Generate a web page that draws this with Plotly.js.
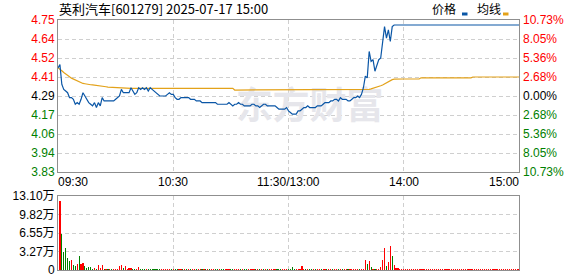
<!DOCTYPE html>
<html><head><meta charset="utf-8">
<script src="https://cdn.plot.ly/plotly-3.0.1.min.js"></script>
<style>html,body{margin:0;padding:0;background:#fff;overflow:hidden}#chart{width:578px;height:276px}</style>
</head><body><div id="chart"></div>
<script>
// ---------- data ----------
const chartTitle = "英利汽车[601279] 2025-07-17 15:00";
const legendNames = ["价格", "均线"];
const watermarkText = "东方财富";
const prevClose = 4.29;
const limitPct = 10.73;
const priceTickLabels = ["4.75","4.64","4.52","4.41","4.29","4.17","4.06","3.94","3.83"];
const pctTickLabels = ["10.73%","8.05%","5.36%","2.68%","0.00%","2.68%","5.36%","8.05%","10.73%"];
const timeTickMinutes = [0, 60, 120, 180, 240];
const timeTickLabels = ["09:30", "10:30", "11:30/13:00", "14:00", "15:00"];
const volTickValues = [0, 32750, 65500, 98250, 131000];
const volTickLabels = ["0", "3.27万", "6.55万", "9.82万", "13.10万"];

// one value per trading minute, 09:30 .. 11:30, 13:01 .. 15:00
const price = [
4.46,4.48,4.36,4.33,4.32,4.31,4.28,4.28,4.27,4.24,
4.25,4.24,4.27,4.31,4.29,4.27,4.25,4.24,4.23,4.25,
4.22,4.25,4.23,4.28,4.26,4.26,4.26,4.26,4.26,4.26,
4.27,4.28,4.29,4.33,4.31,4.31,4.31,4.31,4.34,4.32,
4.30,4.31,4.34,4.33,4.34,4.33,4.34,4.32,4.34,4.33,
4.32,4.31,4.30,4.29,4.29,4.29,4.29,4.30,4.31,4.30,
4.30,4.28,4.27,4.27,4.28,4.28,4.28,4.28,4.28,4.27,
4.27,4.27,4.26,4.26,4.26,4.25,4.25,4.25,4.25,4.25,
4.25,4.25,4.25,4.24,4.24,4.24,4.24,4.24,4.24,4.25,
4.24,4.23,4.24,4.24,4.25,4.24,4.24,4.23,4.23,4.23,
4.23,4.24,4.24,4.23,4.23,4.22,4.23,4.24,4.24,4.23,
4.23,4.23,4.23,4.23,4.22,4.21,4.21,4.21,4.21,4.22,
4.20,4.19,4.18,4.18,4.18,4.20,4.20,4.21,4.22,4.22,
4.23,4.22,4.22,4.22,4.22,4.23,4.23,4.23,4.24,4.25,
4.25,4.25,4.26,4.26,4.27,4.27,4.26,4.28,4.27,4.27,
4.27,4.26,4.26,4.27,4.28,4.28,4.29,4.28,4.30,4.34,
4.41,4.40,4.56,4.50,4.51,4.44,4.47,4.51,4.52,4.60,
4.71,4.64,4.69,4.62,4.71,4.72,4.72,4.72,4.72,4.72,
4.72,4.72,4.72,4.72,4.72,4.72,4.72,4.72,4.72,4.72,
4.72,4.72,4.72,4.72,4.72,4.72,4.72,4.72,4.72,4.72,
4.72,4.72,4.72,4.72,4.72,4.72,4.72,4.72,4.72,4.72,
4.72,4.72,4.72,4.72,4.72,4.72,4.72,4.72,4.72,4.72,
4.72,4.72,4.72,4.72,4.72,4.72,4.72,4.72,4.72,4.72,
4.72,4.72,4.72,4.72,4.72,4.72,4.72,4.72,4.72,4.72,
4.72
];

const avgPrice = [
4.462,4.455,4.443,4.432,4.422,4.414,4.407,4.398,4.392,4.388,
4.383,4.376,4.370,4.366,4.364,4.361,4.359,4.358,4.357,4.356,
4.355,4.354,4.352,4.350,4.348,4.346,4.344,4.343,4.342,4.342,
4.341,4.341,4.340,4.340,4.339,4.338,4.337,4.336,4.336,4.336,
4.336,4.336,4.336,4.336,4.336,4.336,4.336,4.336,4.336,4.336,
4.336,4.336,4.336,4.336,4.336,4.336,4.336,4.336,4.336,4.336,
4.336,4.336,4.336,4.336,4.336,4.336,4.336,4.336,4.336,4.336,
4.336,4.336,4.336,4.336,4.336,4.336,4.336,4.336,4.336,4.336,
4.336,4.336,4.336,4.336,4.336,4.336,4.336,4.336,4.336,4.336,
4.336,4.336,4.326,4.326,4.326,4.326,4.326,4.326,4.326,4.326,
4.326,4.326,4.326,4.326,4.326,4.326,4.326,4.326,4.326,4.326,
4.326,4.326,4.326,4.326,4.326,4.326,4.326,4.326,4.326,4.326,
4.326,4.326,4.326,4.326,4.326,4.326,4.326,4.326,4.326,4.326,
4.326,4.326,4.326,4.326,4.326,4.326,4.326,4.326,4.326,4.326,
4.326,4.326,4.326,4.326,4.326,4.326,4.326,4.326,4.326,4.326,
4.326,4.326,4.326,4.326,4.326,4.326,4.326,4.326,4.326,4.326,
4.326,4.327,4.330,4.333,4.336,4.340,4.344,4.348,4.352,4.357,
4.364,4.372,4.379,4.385,4.389,4.392,4.393,4.393,4.393,4.393,
4.393,4.393,4.393,4.393,4.393,4.393,4.393,4.393,4.393,4.400,
4.400,4.400,4.400,4.400,4.400,4.400,4.400,4.400,4.400,4.400,
4.400,4.400,4.400,4.400,4.400,4.400,4.400,4.400,4.400,4.400,
4.400,4.400,4.400,4.400,4.400,4.400,4.405,4.405,4.405,4.405,
4.405,4.405,4.405,4.405,4.405,4.405,4.405,4.405,4.405,4.405,
4.405,4.405,4.405,4.405,4.405,4.405,4.405,4.405,4.405,4.405,
4.405
];

const volume = [
0,122000,64000,32000,39000,21000,16000,18000,9000,7000,
11000,25000,11000,12500,7000,3500,5000,5000,2500,3500,
2500,9000,3500,9000,2000,1800,1500,2000,1500,1800,
1500,2000,7000,9000,3500,7000,2500,3500,3500,2000,
2000,2000,5000,2000,1800,1500,1800,2000,1500,1800,
1500,1800,2000,1500,1500,1800,1500,2000,1500,1800,
1500,2200,1800,1500,1500,1800,1500,1500,1800,2000,
1500,1500,1800,1500,1500,1800,1500,1500,1500,1800,
1500,1500,1800,2000,1500,1500,1500,1800,1500,2200,
1800,2000,1500,1500,1800,1500,1500,1800,1500,1500,
1500,1800,1500,1500,1500,2000,1500,1800,1500,1500,
1500,1500,1800,1500,2000,2200,1500,1500,1800,1500,
2500,2500,5000,2000,1800,2000,1800,7000,1800,1500,
1800,1500,1500,1800,1500,1500,1800,1500,2000,1800,
1500,1500,1800,1500,2000,1500,1800,2000,1500,1500,
1800,1500,1500,1800,2000,1500,1800,1500,2000,2500,
18000,11000,16000,5000,2000,1800,2000,2000,5000,18000,
39000,7000,14000,43000,25000,9000,4000,4000,2000,1800,
1500,1500,1800,1500,1500,1500,1800,1500,1500,1500,
1800,1500,1500,1500,1500,1800,1500,1500,1500,1500,
1500,1800,1500,1500,1500,1500,1800,1500,1500,1500,
1500,1500,1500,1800,1500,1500,1500,1500,1800,1500,
1500,1500,1800,1500,1500,1500,1500,1500,1800,1500,
1500,1800,1500,1500,1500,1800,1500,1500,1500,1500,
2000
];

// u = up minute (red bar), d = down minute (green bar)
const volDir = [
"uudddddudd","uduudddddu","duuudududu","uuuuduuuud","duuddduddd",
"dddduuuuud","udduududud","uuduududud","uuddudduuu","dduuududdu",
"uuudududud","uuuuddduuu","dddduuuuud","udduduuduu","duuduududu",
"uduuuuuduu","udududuuuu","uduuduuuuu",
"uuuuuuuuuu","uuuuuuuuuu","uuuuuuuuuu","uuuuuuuuuu","uuuuuuuuuu","uuuuuuuuuu","u"
].join("").split("");

// ---------- styling / layout ----------
const W = 578, H = 276, ML = 58, MR = 59, MT = 20, MB = 6;
const plotH = H - MT - MB, plotW = W - ML - MR;
const py = y => (H - MB - y) / plotH;   // pixel row -> paper y
const px = x => (x - ML) / plotW;       // pixel col -> paper x

const RED = "#ff0000", GREEN = "#008000", BLACK = "#000000";
const PRICE_COLOR = "#0a56a6", AVG_COLOR = "#e3a21a";
const GRID = "#cfcfcf", FRAME = "#8f8f8f";
const TICK_FONT = {family: "Liberation Sans, Arial, Noto Sans CJK SC, sans-serif", size: 12, color: BLACK};
const CJK_FONT = "Noto Sans CJK SC, sans-serif";

const minutes = price.map((_, i) => i);
const half = prevClose * limitPct / 100;
const yRange = [prevClose - half, prevClose + half];
const priceTickVals = priceTickLabels.map((_, k) => prevClose + half * (4 - k) / 4);
const tickColor = k => k < 4 ? RED : (k === 4 ? BLACK : GREEN);
const colorSpan = (t, c) => '<span style="color:' + c + '">' + t + '</span>';

// watermark placement (layout constants, in axis units)
const WM_X = 131, WM_Y = 4.205;

const traces = [
  { // watermark, drawn beneath the lines
    type: "scatter", mode: "text", x: [WM_X], y: [WM_Y], text: [watermarkText],
    textfont: {family: CJK_FONT, size: 37, color: "#e6e6eb", weight: 700},
    hoverinfo: "skip", showlegend: false, xaxis: "x", yaxis: "y"
  },
  {
    type: "scatter", mode: "lines", x: minutes, y: avgPrice, name: legendNames[1],
    line: {color: AVG_COLOR, width: 1.2}, hoverinfo: "skip", xaxis: "x", yaxis: "y"
  },
  {
    type: "scatter", mode: "lines", x: minutes, y: price, name: legendNames[0],
    line: {color: PRICE_COLOR, width: 1.2}, hoverinfo: "skip", xaxis: "x", yaxis: "y"
  },
  { // same price series on the percentage axis (invisible), so that axis is drawn
    type: "scatter", mode: "lines", x: minutes, y: price, opacity: 0,
    line: {width: 0}, hoverinfo: "skip", showlegend: false, xaxis: "x", yaxis: "y3"
  },
  {
    type: "bar", x: minutes, y: volume, width: 0.6,
    marker: {color: volDir.map(d => d === "u" ? RED : GREEN), line: {width: 0}},
    hoverinfo: "skip", xaxis: "x2", yaxis: "y2"
  }
];

const gridAxisX = {
  range: [0, 240], tickvals: [60, 120, 180], showticklabels: false, ticks: "",
  showgrid: true, gridcolor: GRID, griddash: "4px,3px", gridwidth: 1,
  showline: true, mirror: true, linecolor: FRAME, linewidth: 1, zeroline: false, fixedrange: true
};

const annotations = [
  {text: chartTitle, xref: "paper", yref: "paper", x: px(57), y: py(9), xanchor: "left", yanchor: "middle",
   showarrow: false, font: {family: CJK_FONT, size: 13, color: BLACK}},
  {text: legendNames[0], xref: "paper", yref: "paper", x: px(430), y: py(9), xanchor: "left", yanchor: "middle",
   showarrow: false, font: {family: CJK_FONT, size: 12, color: BLACK}},
  {text: legendNames[1], xref: "paper", yref: "paper", x: px(475), y: py(9), xanchor: "left", yanchor: "middle",
   showarrow: false, font: {family: CJK_FONT, size: 12, color: BLACK}}
];
timeTickMinutes.forEach((m, i) => {
  annotations.push({
    text: timeTickLabels[i], xref: "x", yref: "paper", x: m, y: py(182),
    xanchor: i === 0 ? "left" : (i === timeTickMinutes.length - 1 ? "right" : "center"),
    yanchor: "middle", showarrow: false, font: TICK_FONT, borderpad: 0, borderwidth: 0
  });
});

const shapes = [
  {type: "rect", xref: "paper", yref: "paper", x0: px(462), x1: px(467.5), y0: py(15.5), y1: py(12.5),
   fillcolor: PRICE_COLOR, line: {width: 0}},
  {type: "rect", xref: "paper", yref: "paper", x0: px(503), x1: px(508.5), y0: py(15.5), y1: py(12.5),
   fillcolor: AVG_COLOR, line: {width: 0}}
];

const layout = {
  width: W, height: H, margin: {l: ML, r: MR, t: MT, b: MB, pad: 0},
  paper_bgcolor: "#ffffff", plot_bgcolor: "#ffffff", showlegend: false,
  bargap: 0,
  xaxis: Object.assign({}, gridAxisX, {anchor: "y", domain: [0, 1]}),
  xaxis2: Object.assign({}, gridAxisX, {anchor: "y2", domain: [0, 1]}),
  yaxis: {
    domain: [py(172), 1], range: yRange, tickvals: priceTickVals,
    ticktext: priceTickLabels.map((t, k) => colorSpan(t, tickColor(k))),
    ticks: "", tickfont: TICK_FONT, showgrid: true, gridcolor: GRID, griddash: "4px,3px",
    showline: true, mirror: true, linecolor: FRAME, linewidth: 1, zeroline: false, fixedrange: true,
    ticklabeloverflow: "allow"
  },
  yaxis3: {
    overlaying: "y", side: "right", anchor: "x", range: yRange, tickvals: priceTickVals,
    ticktext: pctTickLabels.map((t, k) => colorSpan(t, tickColor(k))),
    ticks: "", tickfont: TICK_FONT, showgrid: false, zeroline: false, showline: false, fixedrange: true,
    ticklabeloverflow: "allow", ticklabelstandoff: 3
  },
  yaxis2: {
    domain: [0, py(196)], range: [0, volTickValues[volTickValues.length - 1]],
    tickvals: volTickValues, ticktext: volTickLabels,
    ticks: "", tickfont: TICK_FONT, showgrid: true, gridcolor: GRID, griddash: "4px,3px",
    showline: true, mirror: true, linecolor: FRAME, linewidth: 1, zeroline: false, fixedrange: true,
    ticklabeloverflow: "allow"
  },
  annotations: annotations,
  shapes: shapes
};

Plotly.newPlot("chart", traces, layout, {staticPlot: true, displayModeBar: false});
</script></body></html>
